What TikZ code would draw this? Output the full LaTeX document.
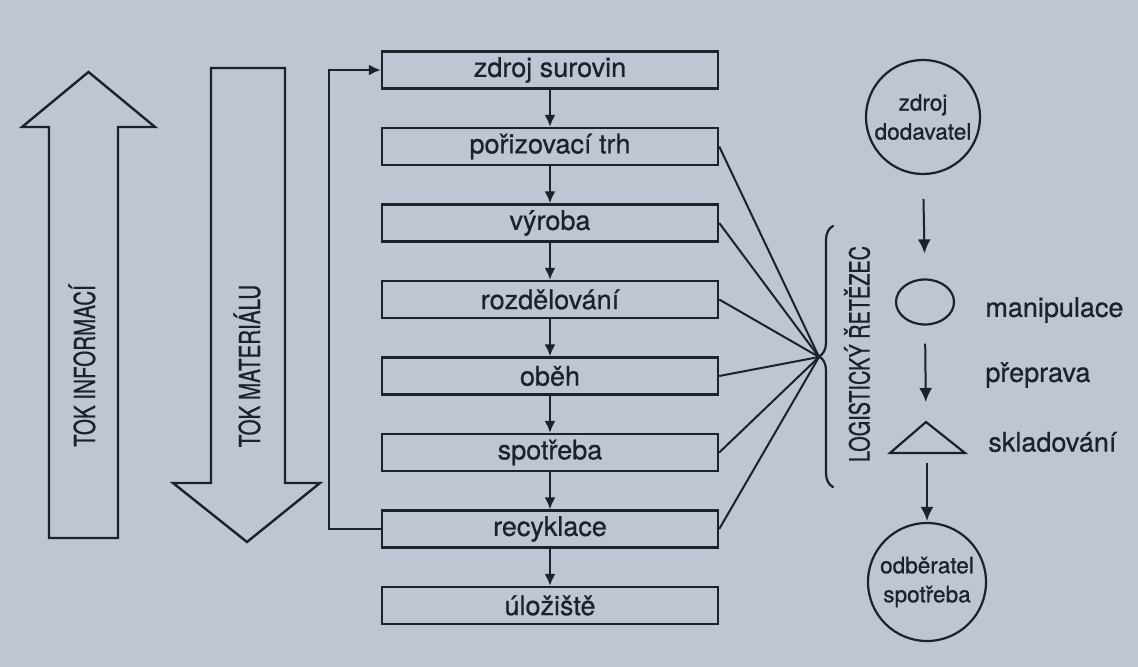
\documentclass[tikz,border=0pt]{standalone}
\usepackage{fontspec}
\setmainfont{TeX Gyre Heros}[FakeBold=0.6]
\newfontfamily\condfont[FakeStretch=0.71,FakeBold=0.6]{TeX Gyre Heros}
\usetikzlibrary{arrows.meta,shapes.geometric,decorations.pathreplacing}
\definecolor{paper}{RGB}{189,198,210}
\definecolor{ink}{RGB}{28,33,44}
\tikzset{
  stage/.style={draw=ink, line width=1.2pt, minimum width=168pt, minimum height=18.5pt,
    inner sep=0pt, font=\fontsize{13.5pt}{16pt}\selectfont, text=ink},
  flow/.style={-{Latex[length=6pt,width=5.5pt]}, draw=ink, line width=1pt},
  bigflow/.style={-{Latex[length=7pt,width=6.5pt]}, draw=ink, line width=1pt},
  spoke/.style={draw=ink, line width=1pt},
  bigarrow/.style={draw=ink, line width=1.2pt, line join=miter},
  vlabel/.style={font=\condfont\fontsize{14.5pt}{16pt}\selectfont, text=ink, rotate=90, inner sep=0pt},
  endpoint/.style={draw=ink, circle, line width=1.1pt, minimum size=57pt, inner sep=0pt,
    align=center, font=\fontsize{11.3pt}{14.5pt}\selectfont, text=ink},
  legend/.style={anchor=west, font=\fontsize{13.5pt}{15pt}\selectfont, text=ink, inner sep=0pt},
}
\begin{document}
\begin{tikzpicture}[x=0.5pt,y=-0.5pt]
  % page
  \fill[paper] (0,0) rectangle (1138,667);
  \useasboundingbox (0,0) rectangle (1138,667);

  % information flow (upward) and material flow (downward)
  \draw[bigarrow] (49,538) -- (49,127) -- (22,127) -- (88.5,72) -- (155,127)
    -- (118,127) -- (118,538) -- cycle;
  \node[vlabel] (info) at (82,366) {TOK INFORMACÍ};
  \draw[bigarrow] (211,68) -- (211,483) -- (173,483) -- (247,542) -- (320,483)
    -- (285,483) -- (285,68) -- cycle;
  \node[vlabel] (mat) at (247,366) {TOK MATERIÁLU};

  % stages of the chain
  \node[stage] (b1) at (550,70)    {zdroj surovin};
  \node[stage] (b2) at (550,146.5) {pořizovací trh};
  \node[stage] (b3) at (550,223)   {výroba};
  \node[stage] (b4) at (550,299.5) {rozdělování};
  \node[stage] (b5) at (550,376)   {oběh};
  \node[stage] (b6) at (550,452.5) {spotřeba};
  \node[stage] (b7) at (550,529)   {recyklace};
  \node[stage] (b8) at (550,605.5) {úložiště};

  \foreach \a/\b in {b1/b2,b2/b3,b3/b4,b4/b5,b5/b6,b6/b7,b7/b8}
    \draw[flow] (\a.south) -- (\b.north);

  % recycling loop back to the source
  \draw[flow] (b7.west) -- ++(-52,0) |- (b1.west);

  % links into the logistic chain
  \coordinate (hub) at (819,357);
  \foreach \s in {b2,b3,b4,b5,b6,b7}
    \draw[spoke] (\s.east) -- (hub);
  \draw[draw=ink, line width=1.1pt, line cap=round,
        decorate, decoration={brace, amplitude=7pt}] (833,487) -- (833,226);
  \node[vlabel, font=\condfont\fontsize{14pt}{16pt}\selectfont] (chain) at (857,354) {LOGISTICKÝ ŘETĚZEC};

  % legend of the chain elements
  \node[endpoint] (src) at (923,117) {zdroj\\dodavatel};
  \node[draw=ink, line width=1.1pt, ellipse, minimum width=29pt, minimum height=22.5pt,
        inner sep=0pt] (handle) at (925,302) {};
  \coordinate (apex) at (926,422);
  \coordinate (baseL) at (890,453);
  \coordinate (baseR) at (965,453);
  \coordinate (baseM) at (927,453);
  \draw[draw=ink, line width=1.1pt, line join=miter] (baseL) -- (apex) -- (baseR) -- cycle;
  \node[endpoint, minimum size=59pt] (dst) at (927,582) {odběratel\\spotřeba};

  \draw[bigflow, shorten <=12pt, shorten >=12.5pt] (src.south) -- (handle.north);
  \draw[bigflow, shorten <=9pt, shorten >=10pt] (handle.south) -- (apex);
  \draw[bigflow, shorten <=5pt, shorten >=0.5pt] (baseM) -- (dst.north);

  \node[legend] (l1) at (985,310) {manipulace};
  \node[legend] (l2) at (985,375) {přeprava};
  \node[legend] (l3) at (988,442) {skladování};
\end{tikzpicture}
\end{document}
